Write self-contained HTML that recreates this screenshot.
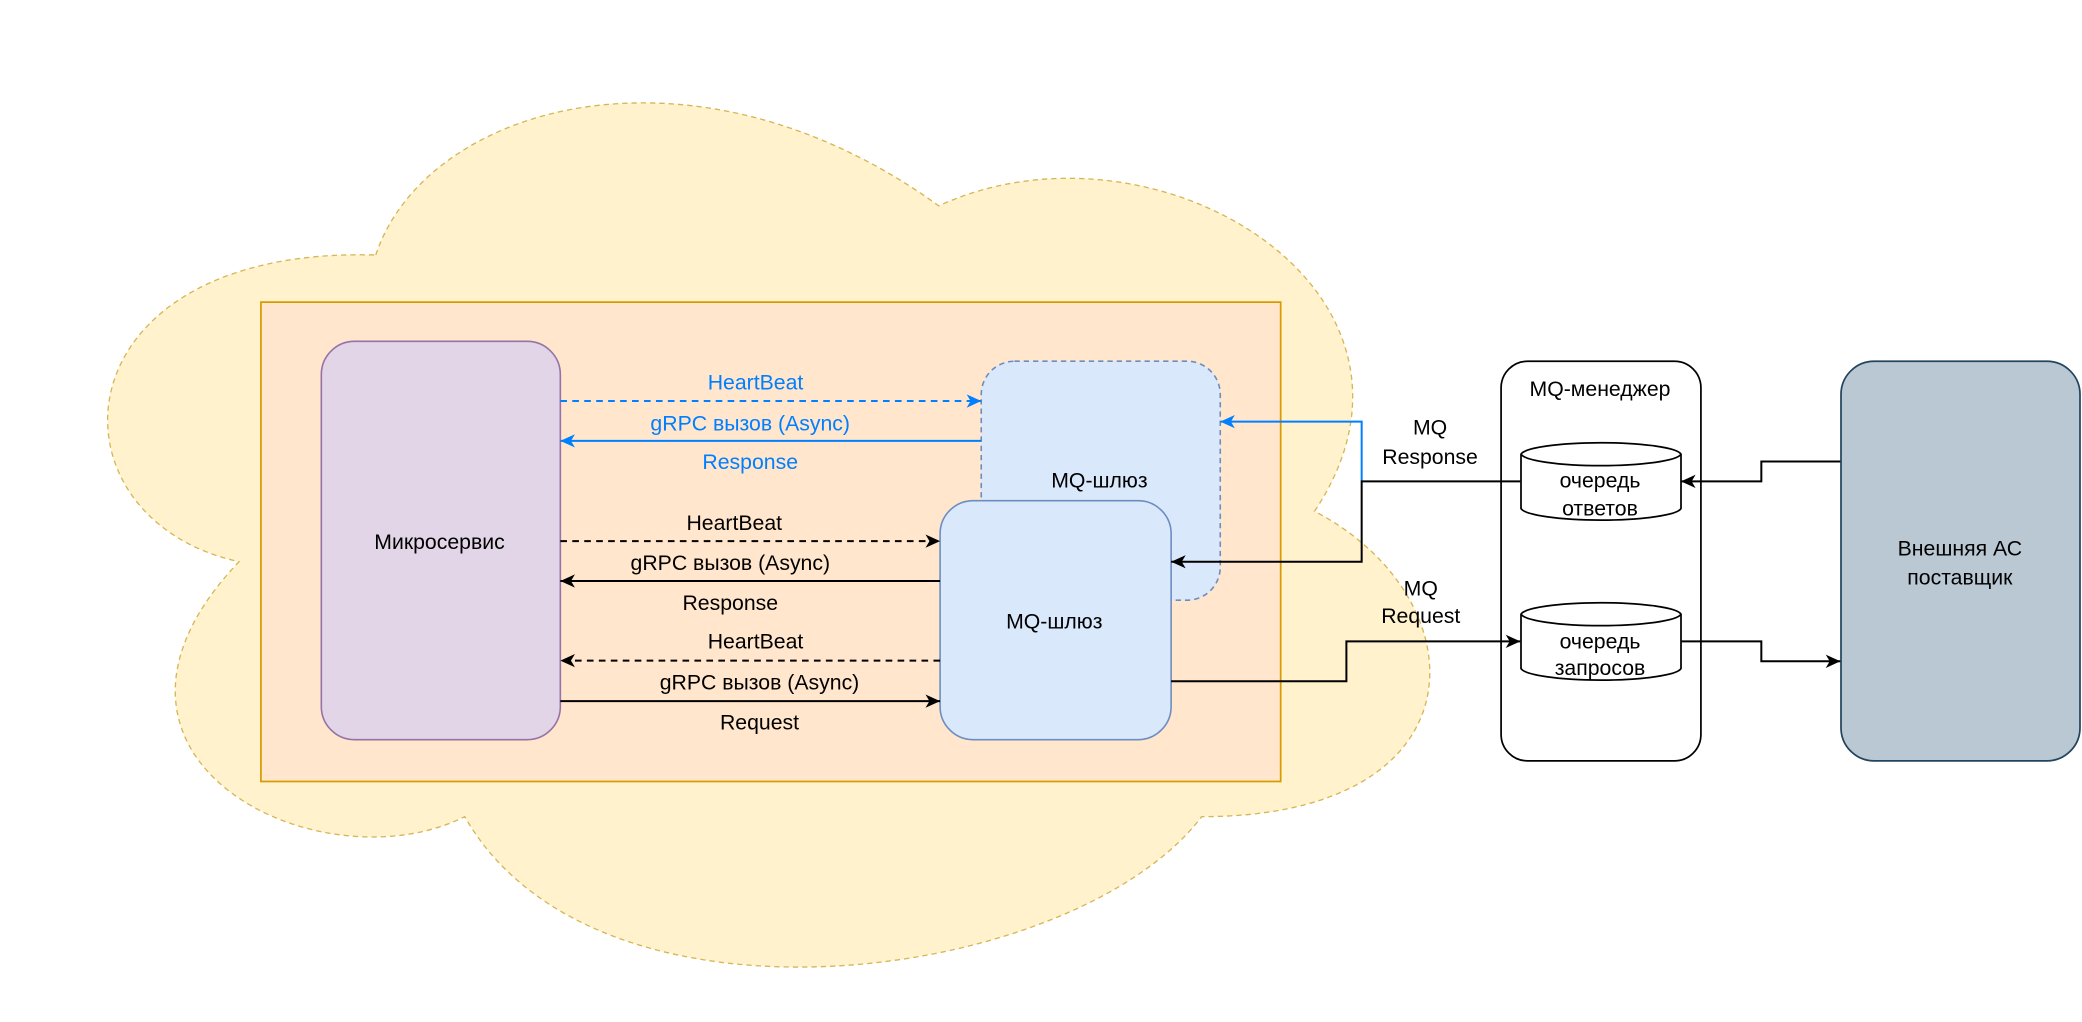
<!DOCTYPE html>
<html><head><meta charset="utf-8"><style>
html,body{margin:0;padding:0;background:#fff;}
svg{display:block;}
text{font-family:"Liberation Sans",Arial,sans-serif;font-size:16px;text-anchor:middle;dominant-baseline:central;fill:#000;}
.b{fill:#007FFF;}
</style></head><body>
<svg width="2082" height="1022" viewBox="0 0 1568 769.6" xmlns="http://www.w3.org/2000/svg">
<defs>
<marker id="ak" markerUnits="userSpaceOnUse" markerWidth="12" markerHeight="12" viewBox="0 0 12 12" refX="11" refY="6" orient="auto"><path d="M0,1 L11,6 L0,11 L3,6 Z" fill="#000"/></marker>
<marker id="ab" markerUnits="userSpaceOnUse" markerWidth="12" markerHeight="12" viewBox="0 0 12 12" refX="11" refY="6" orient="auto"><path d="M0,1 L11,6 L0,11 L3,6 Z" fill="#007FFF"/></marker>
</defs>
<!-- cloud -->
<path d="M283,192 C320,80 520,20 707,155 C870,80 1100,220 990,385 C1115,450 1120,615 905,615 C810,740 450,790 350,615 C240,670 40,570 180,423 C30,390 40,185 283,192 Z" fill="#fff2cc" stroke="#d6b656" stroke-dasharray="4 3" stroke-width="1"/>
<!-- container -->
<rect x="196.5" y="227.5" width="768" height="361" fill="#ffe6cc" stroke="#d79b00" stroke-width="1.3"/>
<!-- microservice -->
<rect x="242" y="257" width="180" height="300" rx="25" fill="#e1d5e7" stroke="#9673a6" stroke-width="1.2"/>
<text x="331" y="408">Микросервис</text>
<!-- back MQ -->
<rect x="739" y="272" width="180" height="180" rx="25" fill="#dae8fc" stroke="#6c8ebf" stroke-dasharray="4 3" stroke-width="1.2"/>
<text x="828" y="362">MQ-шлюз</text>
<!-- front MQ -->
<rect x="708" y="377" width="174" height="180" rx="25" fill="#dae8fc" stroke="#6c8ebf" stroke-width="1.2"/>
<text x="794" y="468">MQ-шлюз</text>
<!-- blue connectors -->
<line x1="422" y1="302" x2="739" y2="302" stroke="#007FFF" stroke-width="1.5" stroke-dasharray="5 4" marker-end="url(#ab)"/>
<line x1="739" y1="332" x2="422" y2="332" stroke="#007FFF" stroke-width="1.5" marker-end="url(#ab)"/>
<text class="b" x="569" y="288">HeartBeat</text>
<text class="b" x="565" y="319">gRPC вызов (Async)</text>
<text class="b" x="565" y="348">Response</text>
<!-- black connectors -->
<line x1="422" y1="407.5" x2="708" y2="407.5" stroke="#000" stroke-width="1.5" stroke-dasharray="5 4" marker-end="url(#ak)"/>
<line x1="708" y1="437.5" x2="422" y2="437.5" stroke="#000" stroke-width="1.5" marker-end="url(#ak)"/>
<line x1="708" y1="497.5" x2="422" y2="497.5" stroke="#000" stroke-width="1.5" stroke-dasharray="5 4" marker-end="url(#ak)"/>
<line x1="422" y1="528" x2="708" y2="528" stroke="#000" stroke-width="1.5" marker-end="url(#ak)"/>
<text x="553" y="394">HeartBeat</text>
<text x="550" y="424">gRPC вызов (Async)</text>
<text x="550" y="454">Response</text>
<text x="569" y="483">HeartBeat</text>
<text x="572" y="514">gRPC вызов (Async)</text>
<text x="572" y="544">Request</text>
<!-- manager -->
<rect x="1130.5" y="272" width="150.5" height="301" rx="20" fill="#fff" stroke="#000" stroke-width="1.3"/>
<text x="1205" y="293">MQ-менеджер</text>
<!-- MQ response -->
<polyline points="1025.5,362 1025.5,317.5 919,317.5" fill="none" stroke="#007FFF" stroke-width="1.5" marker-end="url(#ab)"/>
<polyline points="1145,362.5 1025.5,362.5 1025.5,423 882,423" fill="none" stroke="#000" stroke-width="1.5" marker-end="url(#ak)"/>
<text x="1077" y="322">MQ</text>
<text x="1077" y="344">Response</text>
<!-- MQ request -->
<polyline points="882,513 1014,513 1014,483 1145,483" fill="none" stroke="#000" stroke-width="1.5" marker-end="url(#ak)"/>
<text x="1070" y="443">MQ</text>
<text x="1070" y="464">Request</text>
<!-- cylinders -->
<path d="M1145.5,342 A60.5,9.5 0 0 1 1266,342 V383 A60.5,9.5 0 0 1 1145.5,383 Z" fill="#fff" stroke="#000" stroke-width="1.3"/>
<path d="M1145.5,342 A60.5,9.5 0 0 0 1266,342" fill="none" stroke="#000" stroke-width="1.3"/>
<text x="1205" y="362">очередь</text>
<text x="1205" y="383">ответов</text>
<path d="M1145.5,462.5 A60.5,9.5 0 0 1 1266,462.5 V503.5 A60.5,9.5 0 0 1 1145.5,503.5 Z" fill="#fff" stroke="#000" stroke-width="1.3"/>
<path d="M1145.5,462.5 A60.5,9.5 0 0 0 1266,462.5" fill="none" stroke="#000" stroke-width="1.3"/>
<text x="1205" y="483">очередь</text>
<text x="1205" y="503">запросов</text>
<!-- external -->
<rect x="1386.5" y="272" width="180" height="301" rx="25" fill="#bac8d3" stroke="#23445d" stroke-width="1.3"/>
<text x="1476" y="413">Внешняя АС</text>
<text x="1476" y="435">поставщик</text>
<polyline points="1386,347.5 1326.5,347.5 1326.5,362.5 1266,362.5" fill="none" stroke="#000" stroke-width="1.5" marker-end="url(#ak)"/>
<polyline points="1266,483 1326.5,483 1326.5,498 1386,498" fill="none" stroke="#000" stroke-width="1.5" marker-end="url(#ak)"/>
</svg>
</body></html>
